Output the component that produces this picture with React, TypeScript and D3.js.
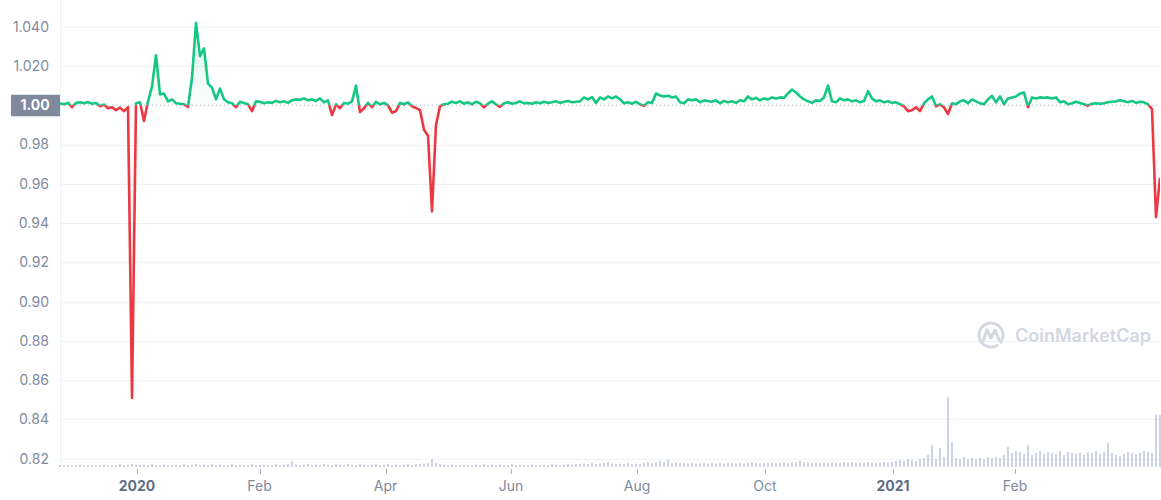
import { useEffect, useRef } from 'react';
import * as d3 from 'd3';

const width = 1161;
const height = 500;

// price (USD), one point per step of the ordinal x axis
const prices = [
  1.0010, 1.0005, 1.0012, 0.9990, 1.0012, 1.0015, 1.0010, 1.0016, 1.0008, 1.0012,
  0.9995, 1.0004, 0.9985, 0.9990, 0.9975, 0.9988, 0.9970, 0.9990, 0.8510, 1.0010,
  1.0015, 0.9920, 1.0020, 1.0095, 1.0255, 1.0055, 1.0060, 1.0020, 1.0030, 1.0010,
  1.0008, 1.0005, 0.9992, 1.0140, 1.0420, 1.0250, 1.0290, 1.0110, 1.0090, 1.0030,
  1.0085, 1.0030, 1.0015, 1.0010, 0.9990, 1.0018, 1.0012, 1.0005, 0.9970, 1.0020,
  1.0018, 1.0010, 1.0015, 1.0012, 1.0022, 1.0015, 1.0020, 1.0012, 1.0025, 1.0030,
  1.0028, 1.0035, 1.0025, 1.0030, 1.0022, 1.0035, 1.0015, 1.0025, 0.9950, 1.0005,
  0.9985, 1.0012, 1.0008, 1.0020, 1.0100, 0.9965, 0.9985, 1.0012, 0.9990, 1.0018,
  1.0005, 1.0012, 1.0000, 0.9962, 0.9970, 1.0012, 1.0005, 1.0015, 0.9995, 0.9985,
  0.9975, 0.9875, 0.9845, 0.9460, 0.9900, 0.9995, 1.0005, 1.0008, 1.0018, 1.0012,
  1.0020, 1.0008, 1.0015, 1.0005, 1.0018, 1.0010, 0.9990, 1.0008, 1.0020, 1.0005,
  0.9992, 1.0010, 1.0015, 1.0008, 1.0012, 1.0020, 1.0010, 1.0012, 1.0008, 1.0015,
  1.0010, 1.0018, 1.0012, 1.0015, 1.0020, 1.0012, 1.0018, 1.0022, 1.0015, 1.0018,
  1.0020, 1.0040, 1.0030, 1.0042, 1.0012, 1.0040, 1.0030, 1.0045, 1.0035, 1.0045,
  1.0030, 1.0010, 1.0015, 1.0008, 1.0018, 1.0005, 0.9998, 1.0015, 1.0012, 1.0060,
  1.0050, 1.0045, 1.0048, 1.0040, 1.0045, 1.0015, 1.0010, 1.0030, 1.0025, 1.0030,
  1.0015, 1.0025, 1.0022, 1.0018, 1.0025, 1.0010, 1.0022, 1.0015, 1.0020, 1.0012,
  1.0025, 1.0020, 1.0045, 1.0030, 1.0038, 1.0025, 1.0035, 1.0030, 1.0040, 1.0035,
  1.0040, 1.0038, 1.0060, 1.0080, 1.0065, 1.0045, 1.0030, 1.0020, 1.0012, 1.0025,
  1.0022, 1.0040, 1.0100, 1.0020, 1.0015, 1.0035, 1.0025, 1.0030, 1.0020, 1.0025,
  1.0015, 1.0022, 1.0072, 1.0035, 1.0020, 1.0025, 1.0015, 1.0020, 1.0012, 1.0015,
  1.0005, 0.9995, 0.9970, 0.9975, 0.9990, 0.9970, 1.0010, 1.0030, 1.0045, 0.9995,
  1.0005, 0.9990, 0.9955, 1.0010, 1.0005, 1.0020, 1.0025, 1.0010, 1.0030, 1.0020,
  1.0010, 1.0005, 1.0030, 1.0048, 1.0015, 1.0045, 1.0005, 1.0035, 1.0040, 1.0045,
  1.0060, 1.0065, 0.9990, 1.0040, 1.0035, 1.0040, 1.0038, 1.0040, 1.0035, 1.0040,
  1.0015, 1.0020, 1.0005, 1.0010, 1.0018, 1.0012, 1.0005, 0.9998, 1.0008, 1.0010,
  1.0008, 1.0010, 1.0015, 1.0018, 1.0020, 1.0025, 1.0020, 1.0015, 1.0022, 1.0012,
  1.0018, 1.0015, 1.0005, 0.9980, 0.9430, 0.9630,
];

// 24h volume (millions USD), same steps as prices
const volumes = [
  2, 1.5, 2, 1.5, 2, 2.5, 1.5, 2, 2, 1.5,
  2, 2.5, 1.5, 2, 2, 3, 2, 2.5, 3, 2,
  2, 2.5, 2, 3, 2, 2, 2.5, 2, 2, 2.5,
  2, 3, 2, 2.5, 3, 2, 2.5, 2, 3, 2,
  2.5, 2, 2, 3, 2, 2.5, 2, 2, 3, 2,
  2, 2.5, 2, 2, 3, 2, 2.5, 3, 6, 2.5,
  2, 2.5, 3, 2, 2.5, 2, 3, 2.5, 2, 3,
  2.5, 2, 3, 2.5, 2, 3, 2.5, 2, 2.5, 3,
  2, 2.5, 3, 2, 2.5, 2, 2.5, 3, 2, 3,
  3, 3.5, 4, 8, 4, 3, 2.5, 2, 2.5, 2,
  2, 2.5, 2, 2, 2.5, 2, 3, 2, 2.5, 2,
  2.5, 2, 2, 3, 2, 2.5, 2, 2, 2.5, 2,
  2, 2.5, 2, 3, 2.5, 2, 2.5, 3, 2.5, 3,
  3, 3.5, 3, 4, 3, 3.5, 4, 5, 3.5, 3,
  3.5, 3, 4, 3, 3.5, 3, 4, 5, 4, 5,
  6, 5, 7, 4, 5, 4, 4, 3.5, 4, 3.5,
  3.5, 4, 3.5, 4, 3.5, 4, 3.5, 4, 4, 3.5,
  4, 3.5, 4, 4.5, 4, 3.5, 4, 4, 4.5, 4,
  4.5, 5, 4, 5, 4.5, 6, 4.5, 5, 4, 4.5,
  4, 4.5, 4, 5, 4.5, 4, 5, 4.5, 5, 4,
  4.5, 4, 5, 4.5, 4, 4.5, 5, 4.5, 5, 6,
  7, 6, 8, 7, 6, 8, 9, 12, 22, 8,
  19, 10, 70, 25, 9, 8, 10, 8, 9, 8,
  9, 8, 10, 9, 10, 9, 12, 20, 14, 16,
  15, 13, 22, 12, 14, 16, 13, 15, 14, 13,
  16, 12, 15, 14, 13, 14, 12, 15, 14, 16,
  13, 15, 24, 14, 12, 11, 13, 15, 14, 13,
  14, 16, 15, 14, 52, 52,
];

const refPrice = 1.0;
const yTicks = [0.82, 0.84, 0.86, 0.88, 0.9, 0.92, 0.94, 0.96, 0.98, 1.02, 1.04];
const yTickLabels = ['0.82', '0.84', '0.86', '0.88', '0.90', '0.92', '0.94', '0.96', '0.98', '1.020', '1.040'];
// positions on the ordinal axis (step index)
const xTickPos = [19.25, 49.9, 81.4, 112.75, 144.25, 176.25, 208.25, 238.75];
const xTickLabels = ['2020', 'Feb', 'Apr', 'Jun', 'Aug', 'Oct', '2021', 'Feb'];
const yearLabels = ['2020', '2021'];

const GREEN = '#16c784';
const RED = '#ea3943';
const LABEL = '#808a9d';

export default function App() {
  const svgRef = useRef<SVGSVGElement>(null);

  useEffect(() => {
    if (!svgRef.current) return;
    const svg = d3.select(svgRef.current);
    svg.selectAll('*').remove();

    const left = 60;
    const right = 1160;
    const bottom = 467;

    const x = d3.scaleLinear().domain([0, prices.length - 1]).range([left, right]);
    const y = d3.scaleLinear().domain([0.8158, 1.0536]).range([bottom, 0]);
    const vy = d3.scaleLinear().domain([0, 80]).range([bottom, bottom - 80]);
    const y0 = y(refPrice);

    const defs = svg.append('defs');
    defs.append('clipPath').attr('id', 'clip-up')
      .append('rect').attr('x', left).attr('y', 0).attr('width', right - left).attr('height', y0);
    defs.append('clipPath').attr('id', 'clip-down')
      .append('rect').attr('x', left).attr('y', y0).attr('width', right - left).attr('height', bottom - y0);

    const gUp = defs.append('linearGradient').attr('id', 'fill-up')
      .attr('gradientUnits', 'userSpaceOnUse')
      .attr('x1', 0).attr('x2', 0).attr('y1', y(1.04)).attr('y2', y0);
    gUp.append('stop').attr('offset', 0).attr('stop-color', GREEN).attr('stop-opacity', 0.16);
    gUp.append('stop').attr('offset', 1).attr('stop-color', GREEN).attr('stop-opacity', 0.02);

    const gDown = defs.append('linearGradient').attr('id', 'fill-down')
      .attr('gradientUnits', 'userSpaceOnUse')
      .attr('x1', 0).attr('x2', 0).attr('y1', y0).attr('y2', y(0.86));
    gDown.append('stop').attr('offset', 0).attr('stop-color', RED).attr('stop-opacity', 0.02);
    gDown.append('stop').attr('offset', 1).attr('stop-color', RED).attr('stop-opacity', 0.1);

    // Grid
    svg.append('g')
      .selectAll('line')
      .data(yTicks)
      .join('line')
      .attr('x1', left).attr('x2', right)
      .attr('y1', d => Math.round(y(d)) + 0.5).attr('y2', d => Math.round(y(d)) + 0.5)
      .attr('stroke', '#eff2f5');

    svg.append('line')
      .attr('x1', left + 0.5).attr('x2', left + 0.5)
      .attr('y1', 0).attr('y2', bottom)
      .attr('stroke', '#eff2f5');

    // Y labels
    svg.append('g')
      .selectAll('text')
      .data(yTicks)
      .join('text')
      .attr('x', 49)
      .attr('y', d => y(d))
      .attr('dy', '0.35em')
      .attr('text-anchor', 'end')
      .attr('fill', LABEL)
      .style('font', '14px Inter, sans-serif')
      .text((d, i) => yTickLabels[i]);

    // Volume bars
    svg.append('g')
      .selectAll('rect')
      .data(volumes)
      .join('rect')
      .attr('x', (d, i) => x(i) - 1)
      .attr('width', 2)
      .attr('y', d => vy(d))
      .attr('height', d => bottom - vy(d))
      .attr('fill', '#cdd3e3');

    // Watermark
    const wm = svg.append('g').attr('fill', 'none').attr('stroke', '#d3d7e0').attr('stroke-width', 3)
      .attr('stroke-linecap', 'round').attr('stroke-linejoin', 'round');
    wm.append('path').attr('d', d3.arc()({ innerRadius: 12, outerRadius: 12, startAngle: 2.6, endAngle: 2 * Math.PI + 2.2 }) as string)
      .attr('transform', 'translate(991,335)');
    wm.append('path').attr('d', 'M983,341 L987,330 L991,338 L995,330 L999,340');
    svg.append('text')
      .attr('x', 1015).attr('y', 342)
      .attr('fill', '#d3d7e0')
      .style('font', '600 18px Inter, sans-serif')
      .text('CoinMarketCap');

    // Areas
    const area = d3.area<number>()
      .x((d, i) => x(i))
      .y0(y0)
      .y1(d => y(d));

    svg.append('path').datum(prices)
      .attr('clip-path', 'url(#clip-up)')
      .attr('fill', 'url(#fill-up)')
      .attr('d', area);
    svg.append('path').datum(prices)
      .attr('clip-path', 'url(#clip-down)')
      .attr('fill', 'url(#fill-down)')
      .attr('d', area);

    // Reference line at 1.00
    svg.append('line')
      .attr('x1', left).attr('x2', right)
      .attr('y1', y0).attr('y2', y0)
      .attr('stroke', '#a6b0c3')
      .attr('stroke-dasharray', '1,3');

    // Price line, green above / red below the reference
    const line = d3.line<number>()
      .x((d, i) => x(i))
      .y(d => y(d));

    svg.append('path').datum(prices)
      .attr('clip-path', 'url(#clip-up)')
      .attr('fill', 'none')
      .attr('stroke', GREEN)
      .attr('stroke-width', 2.6)
      .attr('stroke-linejoin', 'round')
      .attr('d', line);
    svg.append('path').datum(prices)
      .attr('clip-path', 'url(#clip-down)')
      .attr('fill', 'none')
      .attr('stroke', RED)
      .attr('stroke-width', 2.6)
      .attr('stroke-linejoin', 'round')
      .attr('d', line);

    // 1.00 label box
    svg.append('rect')
      .attr('x', 11).attr('y', y0 - 10.5)
      .attr('width', left - 11).attr('height', 21.5)
      .attr('fill', LABEL);
    svg.append('text')
      .attr('x', 35).attr('y', y0)
      .attr('dy', '0.36em')
      .attr('text-anchor', 'middle')
      .attr('fill', '#ffffff')
      .style('font', '700 14px Inter, sans-serif')
      .text(refPrice.toFixed(2));

    // X axis ticks and labels
    const xg = svg.append('g');
    xg.selectAll('line')
      .data(xTickPos)
      .join('line')
      .attr('x1', d => Math.round(x(d)) + 0.5).attr('x2', d => Math.round(x(d)) + 0.5)
      .attr('y1', bottom + 2).attr('y2', bottom + 7)
      .attr('stroke', '#a9b0c0');
    xg.selectAll('text')
      .data(xTickPos)
      .join('text')
      .attr('x', d => x(d))
      .attr('y', 491)
      .attr('text-anchor', 'middle')
      .attr('fill', (d, i) => yearLabels.includes(xTickLabels[i]) ? '#616e85' : LABEL)
      .style('font', (d, i) => yearLabels.includes(xTickLabels[i]) ? '700 14px Inter, sans-serif' : '14px Inter, sans-serif')
      .text((d, i) => xTickLabels[i]);
  }, []);

  return (
    <svg
      ref={svgRef}
      width={width}
      height={height}
      style={{ position: 'absolute', left: 0, top: 0, background: '#ffffff' }}
    />
  );
}
